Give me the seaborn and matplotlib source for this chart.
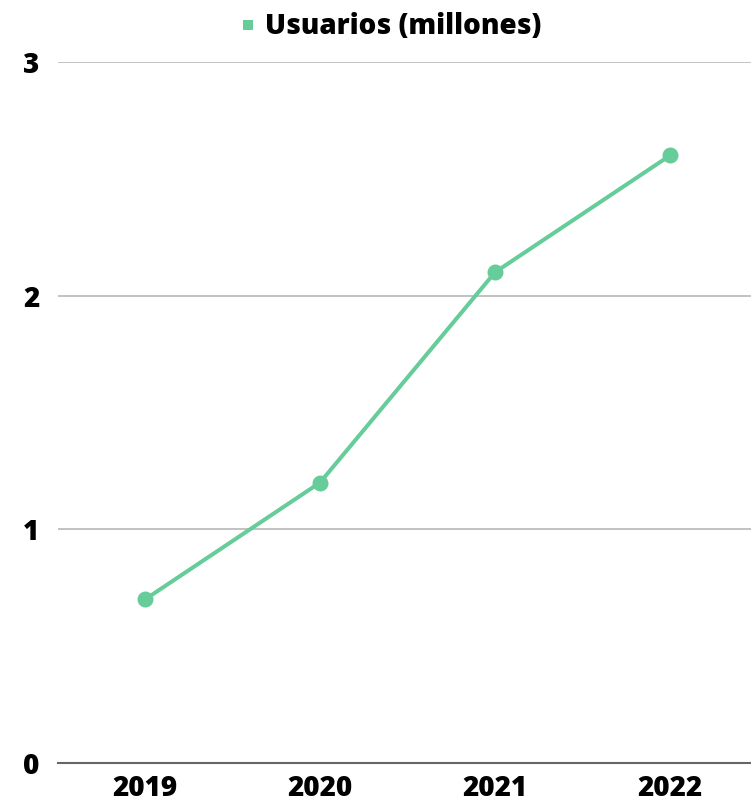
import pandas as pd
import seaborn as sns
import matplotlib.pyplot as plt
from matplotlib.lines import Line2D

# data
years = ["2019", "2020", "2021", "2022"]
usuarios = [0.7, 1.2, 2.1, 2.6]
y_ticks = [0, 1, 2, 3]

df = pd.DataFrame({"Año": years, "Usuarios": usuarios})

sns.set_theme(style="white")
plt.rcParams["font.family"] = ["Open Sans", "DejaVu Sans"]

green = "#66cc99"

fig = plt.figure(figsize=(7.51, 8.07), dpi=100)
ax = fig.add_axes([57.5 / 751, 1 - 763 / 807, 700 / 751, 701 / 807])

sns.lineplot(data=df, x="Año", y="Usuarios", ax=ax, sort=False,
             color=green, linewidth=2.9, marker="o", markersize=11.5,
             markeredgewidth=0, clip_on=False)

ax.set_xlim(-0.5, 3.5)
ax.set_ylim(0, 3)
ax.set_yticks(y_ticks)
ax.set_yticklabels([str(t) for t in y_ticks])
ax.set_xlabel("")
ax.set_ylabel("")

ax.grid(axis="y", color="#bdbdbd", linewidth=1.3)
ax.set_axisbelow(True)
for side in ["top", "right", "left"]:
    ax.spines[side].set_visible(False)
ax.spines["bottom"].set_color("#666666")
ax.spines["bottom"].set_linewidth(1.5)

ax.tick_params(axis="both", length=0)
ax.tick_params(axis="y", pad=13)
ax.tick_params(axis="x", pad=8)
for lab in ax.get_xticklabels() + ax.get_yticklabels():
    lab.set_fontsize(20)
    lab.set_fontweight("heavy")
    lab.set_color("black")

handle = Line2D([], [], linestyle="none", marker="s", markersize=7,
                color=green, markeredgewidth=0)
leg = fig.legend([handle], ["Usuarios (millones)"], loc="center",
                 bbox_to_anchor=(390 / 751, 1 - 27 / 807), frameon=False,
                 prop={"size": 20, "weight": "heavy"}, handletextpad=0.25,
                 handlelength=0.7)
for t in leg.get_texts():
    t.set_color("black")

plt.savefig("out.png", dpi=100)
